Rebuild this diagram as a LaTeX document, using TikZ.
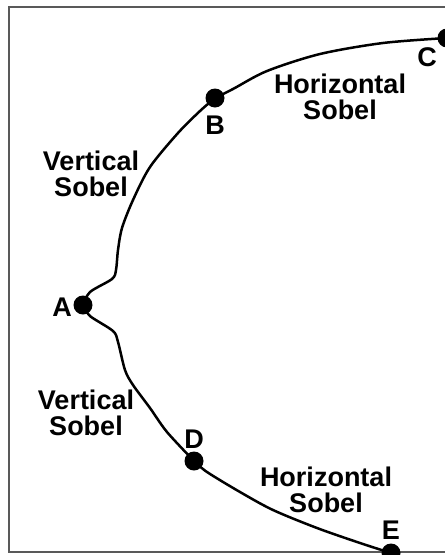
\documentclass[tikz,border=0pt]{standalone}
\usepackage{fontspec}
\setmainfont{Liberation Sans}
\begin{document}
\begin{tikzpicture}[x=1pt,y=-1pt,
  dot/.style={circle,fill=black,inner sep=0pt,minimum size=19pt},
  lbl/.style={font=\bfseries\fontsize{27}{27}\selectfont,inner sep=0pt},
  sob/.style={font=\bfseries\fontsize{27}{25.5}\selectfont,align=center,inner sep=0pt},
  curve/.style={line width=2.5pt,black,line join=round,line cap=round}]
\useasboundingbox (0,0) rectangle (445,555);
\begin{scope}
\clip (0,0) rectangle (445,555);
\draw[line width=2pt,black!65] (8.5,6.5) rectangle (470,552);
\node[dot] (A) at (83,305) {};
\node[dot] (B) at (215,98) {};
\node[dot] (C) at (447,38) {};
\node[dot] (D) at (194,461) {};
\node[dot] (E) at (391,553) {};
\draw[curve] plot[smooth,tension=0.5] coordinates {(A.center) (90,292) (112,279) (116,270) (118,250) (122,228) (133,200) (150,167) (178,133) (200,111) (B.center)};
\draw[curve] plot[smooth,tension=0.5] coordinates {(B.center) (233,89) (267,71) (320,54) (383,43) (C.center)};
\draw[curve] plot[smooth,tension=0.5] coordinates {(A.center) (90,316) (113,331) (118,342) (125,370) (133,385) (150,408) (167,432) (D.center)};
\draw[curve] plot[smooth,tension=0.5] coordinates {(D.center) (207,472) (240,492) (273,510) (317,528) (360,543) (E.center)};
\end{scope}
\node[lbl] (la) at (62,307) {A};
\node[lbl] (lb) at (215,125) {B};
\node[lbl] (lc) at (427,57) {C};
\node[lbl] (ld) at (194,439) {D};
\node[lbl] (le) at (391,530) {E};
\node[sob] (s1) at (91,174) {Vertical\\Sobel};
\node[sob] (s2) at (340,97) {Horizontal\\Sobel};
\node[sob] (s3) at (86,413) {Vertical\\Sobel};
\node[sob] (s4) at (326,490) {Horizontal\\Sobel};
\end{tikzpicture}
\end{document}
